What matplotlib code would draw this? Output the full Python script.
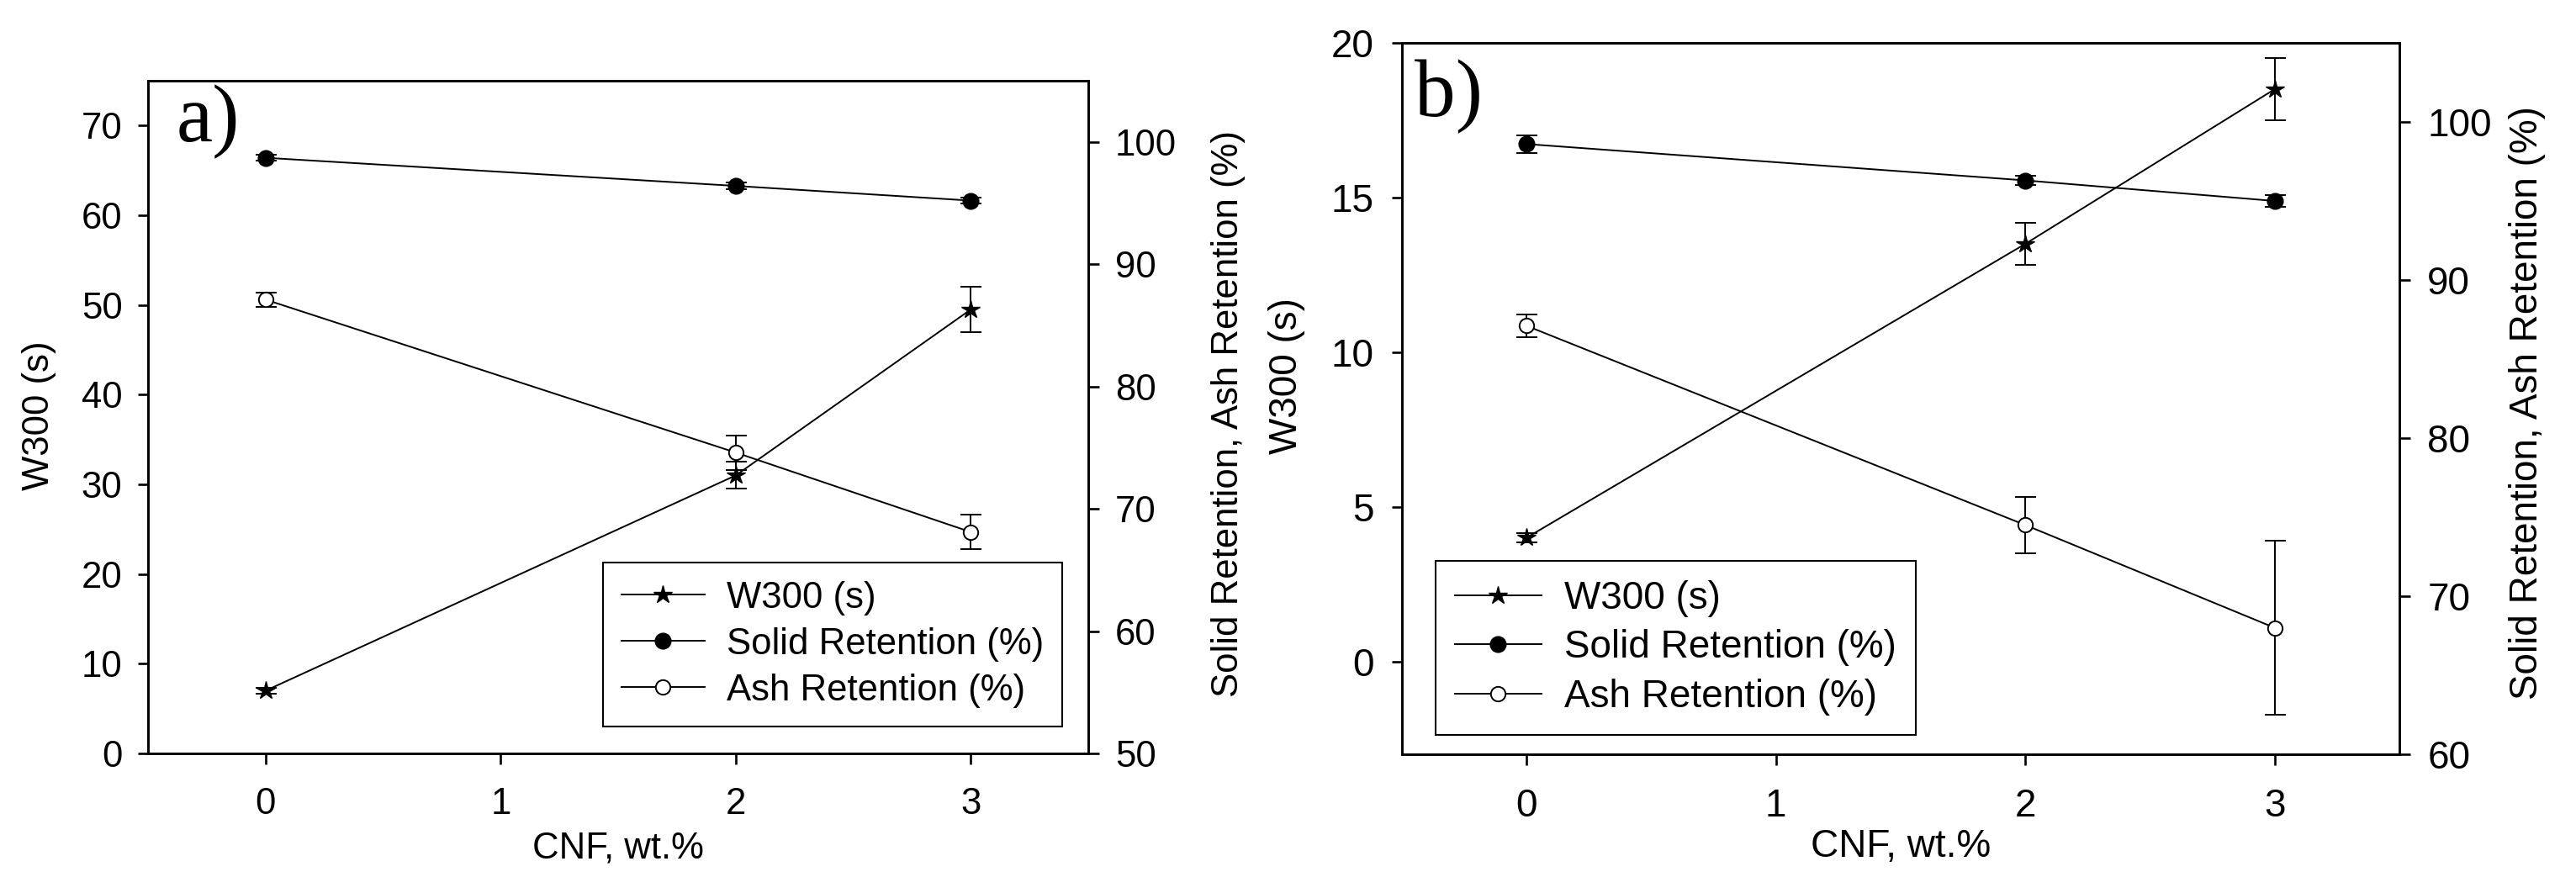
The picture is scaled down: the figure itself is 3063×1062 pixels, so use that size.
import matplotlib
matplotlib.use('Agg')
import matplotlib.pyplot as plt
from matplotlib.lines import Line2D

plt.rcParams['font.family'] = ['Liberation Sans', 'DejaVu Sans']

# data
cnf = [0, 2, 3]
x_ticks = [0, 1, 2, 3]

# panel a
w300_a = [7.0, 31.0, 49.5]
w300_a_err = [0.3, 1.5, 2.5]
solid_a = [98.7, 96.4, 95.2]
solid_a_err = [0.25, 0.25, 0.25]
ash_a = [87.1, 74.6, 68.1]
ash_a_err = [0.6, 1.4, 1.4]

# panel b
w300_b = [4.0, 13.5, 18.5]
w300_b_err = [0.15, 0.67, 1.0]
solid_b = [98.6, 96.3, 95.0]
solid_b_err = [0.55, 0.3, 0.35]
ash_b = [87.1, 74.5, 68.0]
ash_b_err = [0.7, 1.8, 5.5]

labels = ['W300 (s)', 'Solid Retention (%)', 'Ash Retention (%)']
lw = 1.4
spine_w = 1.9


def draw_panel(ax, w300, w300_err, solid, solid_err, ash, ash_err,
               fs, left_lim, left_ticks, right_lim, right_ticks,
               tag, tag_xy, ylab_l, ylab_r, xlab_y, leg_xy, pads):
    ax2 = ax.twinx()

    ax.errorbar(cnf, w300, yerr=w300_err, fmt='none', ecolor='black',
                elinewidth=lw, capsize=9, capthick=lw, zorder=2)
    ax.plot(cnf, w300, color='black', lw=lw, marker='*', ms=16,
            mfc='black', mec='black', zorder=3)

    ax2.errorbar(cnf, solid, yerr=solid_err, fmt='none', ecolor='black',
                 elinewidth=lw, capsize=9, capthick=lw, zorder=2)
    ax2.plot(cnf, solid, color='black', lw=lw, marker='o', ms=13.5,
             mfc='black', mec='black', zorder=3)
    ax2.errorbar(cnf, ash, yerr=ash_err, fmt='none', ecolor='black',
                 elinewidth=lw, capsize=9, capthick=lw, zorder=2)
    ax2.plot(cnf, ash, color='black', lw=lw, marker='o', ms=12.5,
             mfc='white', mec='black', mew=1.4, zorder=3)

    ax.set_xlim(-0.5, 3.5)
    ax.set_xticks(x_ticks)
    ax.set_ylim(*left_lim)
    ax.set_yticks(left_ticks)
    ax2.set_ylim(*right_lim)
    ax2.set_yticks(right_ticks)

    for a in (ax, ax2):
        for s in a.spines.values():
            s.set_linewidth(spine_w)
    ax.tick_params(axis='x', direction='out', length=9, width=spine_w,
                   labelsize=fs, pad=pads[0])
    ax.tick_params(axis='y', direction='out', length=9, width=spine_w,
                   labelsize=fs, pad=pads[1])
    ax2.tick_params(axis='y', direction='out', length=9, width=spine_w,
                    labelsize=fs, pad=pads[2])

    ax.set_xlabel('CNF, wt.%', fontsize=fs)
    ax.xaxis.set_label_coords(0.5, xlab_y)
    ax.set_ylabel('W300 (s)', fontsize=fs)
    ax.yaxis.set_label_coords(*ylab_l)
    ax2.set_ylabel('Solid Retention, Ash Retention (%)', fontsize=fs)
    ax2.yaxis.set_label_coords(*ylab_r)

    ax2.text(tag_xy[0], tag_xy[1], tag, transform=ax.transAxes,
             fontsize=70, family=['Liberation Serif', 'DejaVu Serif'],
             va='baseline', ha='left')

    handles = [
        Line2D([], [], color='black', lw=lw, marker='*', ms=16, mfc='black'),
        Line2D([], [], color='black', lw=lw, marker='o', ms=13.5, mfc='black'),
        Line2D([], [], color='black', lw=lw, marker='o', ms=12.5, mfc='white',
               mew=1.4),
    ]
    leg = ax2.legend(handles, labels, loc='upper left', bbox_to_anchor=leg_xy,
                     bbox_transform=ax.transAxes, borderaxespad=0,
                     fontsize=fs, frameon=True, fancybox=False, framealpha=1,
                     edgecolor='black', borderpad=0.5, labelspacing=0.32,
                     handlelength=2.25, handletextpad=0.6)
    leg.get_frame().set_linewidth(1.5)
    return ax2


fig = plt.figure(figsize=(30.63, 10.62), dpi=100)

ax_a = fig.add_axes([0.0575, 0.1563, 0.3650, 0.7533])
draw_panel(ax_a, w300_a, w300_a_err, solid_a, solid_a_err, ash_a, ash_a_err,
           fs=31.5, left_lim=(0, 75), left_ticks=range(0, 71, 10),
           right_lim=(50, 105), right_ticks=range(50, 101, 10),
           tag='a)', tag_xy=(0.030, 0.91),
           ylab_l=(-0.0975, 0.5025), ylab_r=(1.1306, 0.505), xlab_y=-0.116,
           leg_xy=(0.484, 0.284), pads=(20, 13, 14))

ax_b = fig.add_axes([0.5442, 0.1554, 0.3872, 0.7966])
draw_panel(ax_b, w300_b, w300_b_err, solid_b, solid_b_err, ash_b, ash_b_err,
           fs=33, left_lim=(-3, 20), left_ticks=range(0, 21, 5),
           right_lim=(60, 105), right_ticks=range(60, 101, 10),
           tag='b)', tag_xy=(0.0126, 0.897),
           ylab_l=(-0.097, 0.532), ylab_r=(1.1096, 0.494), xlab_y=-0.104,
           leg_xy=(0.0337, 0.272), pads=(20, 15, 15))

fig.savefig('out.png', dpi=100)
